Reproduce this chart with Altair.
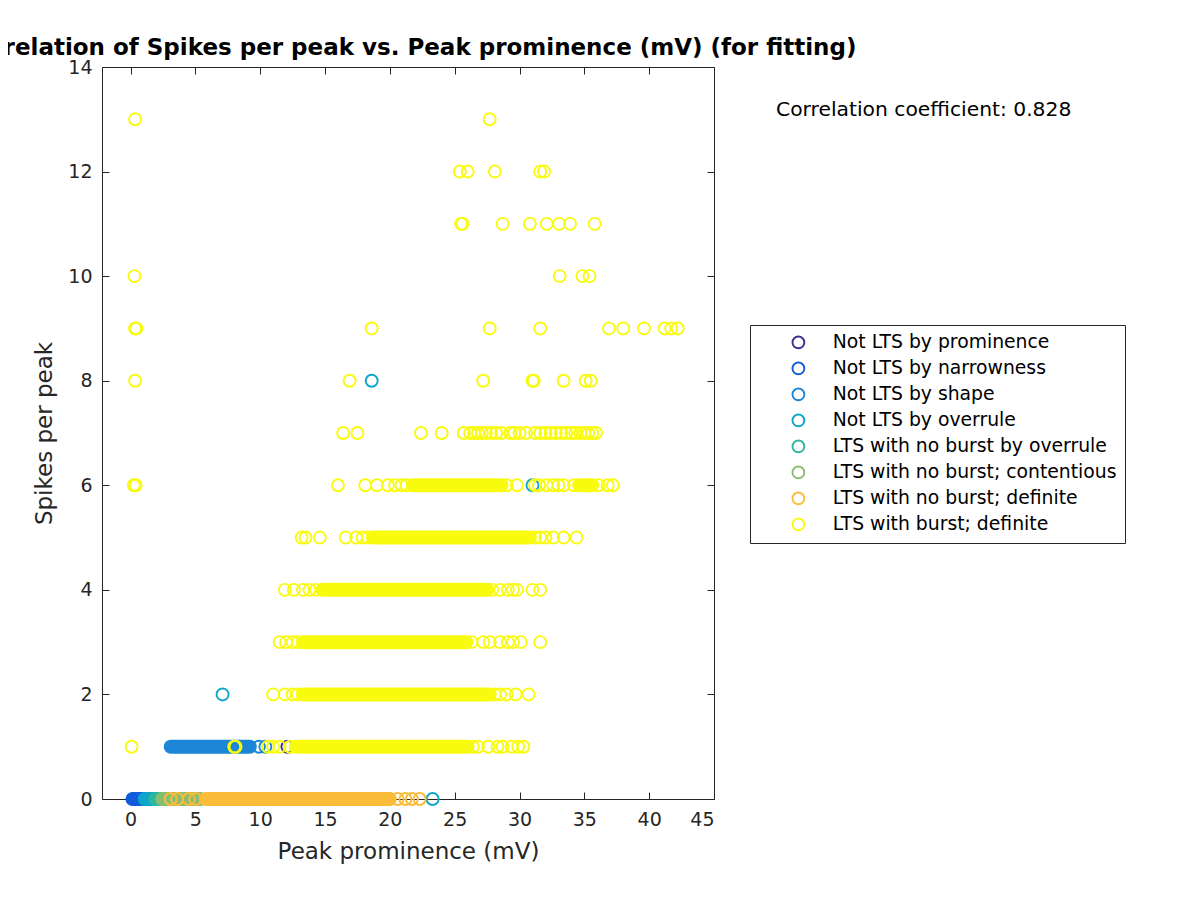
import altair as alt
import pandas as pd

FONT = "DejaVu Sans"

CATS = [
    "Not LTS by prominence",
    "Not LTS by narrowness",
    "Not LTS by shape",
    "Not LTS by overrule",
    "LTS with no burst by overrule",
    "LTS with no burst; contentious",
    "LTS with no burst; definite",
    "LTS with burst; definite",
]
COLORS = ["#3B2C8F", "#0F5CDD", "#1C86D6", "#0DA6C8",
          "#2FB6A0", "#88BE70", "#FBBC3A", "#F9FB0E"]

TITLE = "Correlation of Spikes per peak vs. Peak prominence (mV) (for fitting)"
CORR_TEXT = "Correlation coefficient: 0.828"

# ---- sparse (individually visible) points, x = Peak prominence (mV) ----
# LTS with burst; definite, by spikes-per-peak row
burst_row13 = [0.35, 27.7]
burst_row12 = [25.4, 26.0, 28.1, 31.6, 31.9]
burst_row11 = [25.5, 25.6, 28.7, 30.8, 32.1, 33.05, 33.9, 35.8]
burst_row10 = [0.3, 33.1, 34.85, 35.4]
burst_row9 = [0.35, 0.45, 18.6, 27.7, 31.6, 36.9, 38.0, 39.6, 41.2, 41.7, 42.2]
burst_row8 = [0.35, 16.9, 27.2, 31.0, 31.1, 33.4, 35.1, 35.5]
burst_row7 = [16.4, 17.5, 22.4, 24.0, 25.7, 26.2, 26.5, 26.8, 27.1, 27.4, 27.8,
              28.2, 28.6, 29.3, 29.6, 30.0, 30.5, 31.2, 31.6, 32.0, 32.4, 32.8,
              33.2, 33.6, 34.0, 34.3, 34.7, 35.0, 35.3, 35.6, 35.9]
burst_row6 = [0.25, 0.4, 16.0, 18.1, 19.0, 19.85, 20.4, 20.9, 21.3, 29.0, 29.8,
              31.2, 31.5, 32.1, 32.6, 33.0, 33.4, 34.2, 36.1, 36.8, 37.2]
burst_row5 = [13.2, 13.5, 14.6, 16.6, 17.4, 17.9, 18.3, 31.2, 31.6, 32.0, 32.6,
              33.4, 34.4]
burst_row4 = [11.9, 12.6, 13.3, 13.8, 14.3, 27.9, 28.5, 29.1, 29.5, 29.8, 31.0, 31.6]
burst_row3 = [11.5, 12.0, 12.5, 12.9, 26.3, 27.2, 27.7, 28.5, 29.1, 29.5, 30.1, 31.6]
burst_row2 = [11.0, 11.9, 12.5, 12.9, 28.1, 28.5, 29.0, 29.7, 30.7]
burst_row1 = [0.08, 8.0, 8.1, 10.6, 11.0, 11.5, 12.3, 26.4, 26.8, 27.6, 28.3,
              28.7, 29.4, 29.9, 30.3]

# LTS with no burst; definite (row 0)
noburst_def_row0 = [3.1, 3.6, 4.5, 5.0, 20.6, 21.2, 21.7, 22.3]

# Not LTS by overrule (x, row)
overrule_x = [23.3, 7.1, 31.0, 18.6]
overrule_y = [0, 2, 6, 8]

# Not LTS by shape (row 1)
shape_row1 = [9.9, 10.4]

# Not LTS by prominence
prominence_x = [12.1]
prominence_y = [1]

# ---- dense runs of overlapping markers: (category, row, first x, last x) ----
band_cat = [
    "Not LTS by narrowness", "Not LTS by overrule", "LTS with no burst by overrule",
    "LTS with no burst; contentious", "Not LTS by shape",
    "LTS with no burst; definite",
    "LTS with burst; definite", "LTS with burst; definite", "LTS with burst; definite",
    "LTS with burst; definite", "LTS with burst; definite", "LTS with burst; definite",
    "LTS with burst; definite",
]
band_row = [0, 0, 0, 0, 1, 0, 1, 2, 3, 4, 5, 6, 6]
band_start = [0.15, 1.1, 1.9, 2.45, 3.1, 5.8, 12.75, 13.3, 13.3, 14.8, 18.7, 21.8, 34.6]
band_end = [1.2, 2.2, 2.4, 5.4, 9.2, 20.0, 26.0, 27.7, 25.9, 27.5, 30.8, 28.6, 35.6]

LOW = CATS[:6]

# ---------------- build tables ----------------
pts = []
for x, y in zip(prominence_x, prominence_y):
    pts.append((CATS[0], x, y))
for x in shape_row1:
    pts.append((CATS[2], x, 1))
for x, y in zip(overrule_x, overrule_y):
    pts.append((CATS[3], x, y))
for x in noburst_def_row0:
    pts.append((CATS[6], x, 0))
burst_rows = {1: burst_row1, 2: burst_row2, 3: burst_row3, 4: burst_row4,
              5: burst_row5, 6: burst_row6, 7: burst_row7, 8: burst_row8,
              9: burst_row9, 10: burst_row10, 11: burst_row11, 12: burst_row12,
              13: burst_row13}
for r, xs in burst_rows.items():
    for x in xs:
        pts.append((CATS[7], x, r))
pts_df = pd.DataFrame(pts, columns=["cat", "x", "y"])
pts_low = pts_df[pts_df["cat"].isin(LOW)]
pts_high = pts_df[~pts_df["cat"].isin(LOW)]

cmap = dict(zip(CATS, COLORS))
bands_df = pd.DataFrame({"cat": band_cat, "row": band_row,
                         "start": band_start, "end": band_end})
bands_df["hex"] = bands_df["cat"].map(cmap)
bands_low = bands_df[bands_df["cat"].isin(LOW)]
bands_high = bands_df[~bands_df["cat"].isin(LOW)]

W, H = 612, 732
MSIZE = 144
xscale = alt.Scale(domain=[-2.2, 45], nice=False, zero=False)
yscale = alt.Scale(domain=[0, 14], nice=False, zero=False)

xaxis = alt.Axis(values=list(range(0, 50, 5)), title="Peak prominence (mV)",
                 domain=False, ticks=False, grid=True, gridColor="#262626",
                 gridOpacity=1, gridWidth=1, gridDash=[7, H - 14, 7, 0],
                 labelFont=FONT, labelFontSize=19, labelColor="#262626",
                 labelPadding=11, titleFont=FONT, titleFontSize=23,
                 titleFontWeight="normal", titleColor="#262626", titlePadding=11)
yaxis = alt.Axis(values=list(range(0, 16, 2)), title="Spikes per peak",
                 domain=False, ticks=False, grid=True, gridColor="#262626",
                 gridOpacity=1, gridWidth=1, gridDash=[7, W - 14, 7, 0],
                 labelFont=FONT, labelFontSize=19, labelColor="#262626",
                 labelPadding=10, titleFont=FONT, titleFontSize=23,
                 titleFontWeight="normal", titleColor="#262626", titlePadding=11)

legend = alt.Legend(title=None, orient="none", legendX=648, legendY=258,
                    strokeColor="#262626", fillColor="white", padding=8,
                    symbolType="circle", symbolSize=140, symbolStrokeWidth=1.9,
                    symbolOffset=31, labelOffset=25, rowPadding=5,
                    labelFont=FONT, labelFontSize=18.8, labelColor="#000000",
                    labelLimit=500)


def band_layer(df):
    return alt.Chart(df).mark_rule(strokeWidth=14, strokeCap="round").encode(
        x=alt.X("start:Q", scale=xscale, axis=xaxis),
        x2="end:Q",
        y=alt.Y("row:Q", scale=yscale, axis=yaxis),
        color=alt.Color("hex:N", scale=None),
    )


def point_layer(df):
    return alt.Chart(df).mark_point(shape="circle", filled=False, size=MSIZE,
                                    strokeWidth=1.9, opacity=1).encode(
        x=alt.X("x:Q", scale=xscale, axis=xaxis),
        y=alt.Y("y:Q", scale=yscale, axis=yaxis),
        color=alt.Color("cat:N", scale=alt.Scale(domain=CATS, range=COLORS),
                        legend=legend),
    )


corr = alt.Chart(pd.DataFrame({"t": [CORR_TEXT]})).mark_text(
    align="left", baseline="alphabetic", font=FONT, fontSize=20.3, color="#000000"
).encode(x=alt.value(674), y=alt.value(49), text="t:N")

title = alt.Chart(pd.DataFrame({"t": [TITLE]})).mark_text(
    align="center", baseline="alphabetic", font=FONT, fontSize=23,
    fontWeight="bold", color="#000000"
).encode(x=alt.value(W / 2), y=alt.value(-12), text="t:N")

chart = alt.layer(
    band_layer(bands_low), point_layer(pts_low),
    band_layer(bands_high), point_layer(pts_high),
    corr, title,
).properties(
    width=W, height=H,
    background="white",
    autosize=alt.AutoSizeParams(type="none"),
    padding={"left": 94, "top": 59, "right": 470, "bottom": 80},
).configure_view(stroke="#262626", strokeWidth=1)

chart.save("out.html", embed_options={"renderer": "svg", "actions": False})
